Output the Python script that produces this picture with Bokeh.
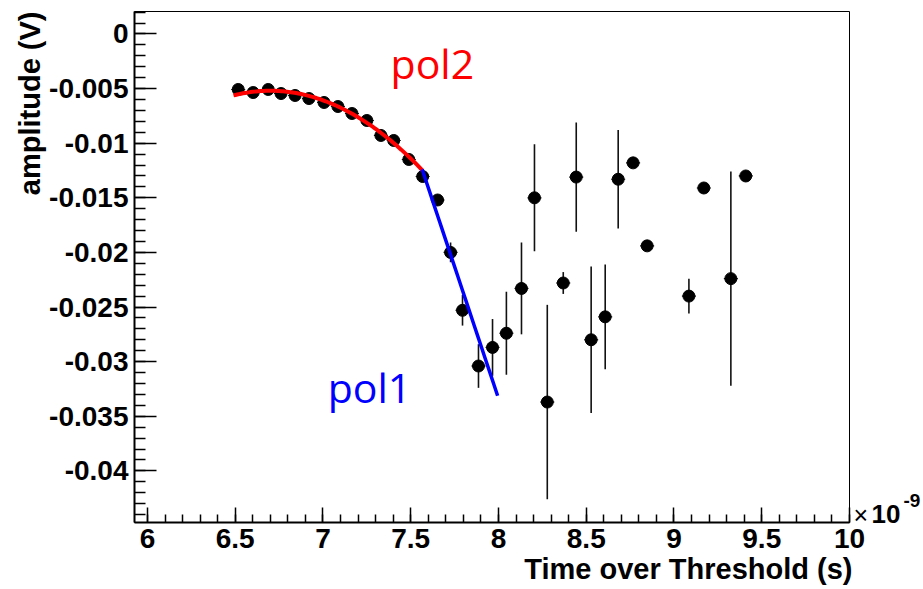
import numpy as np
from bokeh.plotting import figure
from bokeh.models import (Range1d, FixedTicker, CustomJSTickFormatter, Label, ColumnDataSource,
                          Title, LinearAxis)
from bokeh.embed import file_html
from bokeh.resources import INLINE

# ---- data (x in units of 1e-9 s) ----
tot_ns = [6.517, 6.602, 6.688, 6.761, 6.841, 6.920, 7.006, 7.085, 7.165, 7.250,
          7.330, 7.403, 7.489, 7.568, 7.653, 7.727, 7.795, 7.886, 7.966, 8.045,
          8.131, 8.205, 8.278, 8.369, 8.443, 8.528, 8.608, 8.682, 8.767, 8.847,
          9.085, 9.170, 9.324, 9.409]
amp = [-0.00508, -0.00536, -0.00508, -0.00545, -0.00563, -0.00591, -0.00627, -0.00664,
       -0.00728, -0.00792, -0.00929, -0.00975, -0.01149, -0.01305, -0.01520, -0.0200,
       -0.0253, -0.0304, -0.0287, -0.0274, -0.0233, -0.0150, -0.0337, -0.0228,
       -0.0131, -0.0280, -0.0259, -0.0133, -0.0118, -0.0194, -0.0240, -0.0141,
       -0.0224, -0.0130]
amp_err = [0.0002, 0.0002, 0.0002, 0.0002, 0.0002, 0.0002, 0.0002, 0.0002, 0.0002, 0.0002,
           0.0002, 0.0002, 0.0002, 0.0002, 0.0002, 0.0009, 0.0014, 0.0020, 0.0026, 0.0038,
           0.0042, 0.0049, 0.0089, 0.0010, 0.0050, 0.0067, 0.0048, 0.0045, 0.0003, 0.0003,
           0.0016, 0.0003, 0.0098, 0.0003]
tot_err = 0.04

# fit results: pol2 and pol1 (coefficients p0, p1, p2 in x [ns])
pol2_coef = [-0.44063, 0.12998, -0.0097]
pol2_range = [6.49, 7.565]
pol1_coef = [0.35224, -0.0482]
pol1_range = [7.565, 7.995]

x_major = [6.0, 6.5, 7.0, 7.5, 8.0, 8.5, 9.0, 9.5, 10.0]
x_minor = [round(6.0 + 0.1 * i, 1) for i in range(41)]
y_major = [0.0, -0.005, -0.01, -0.015, -0.02, -0.025, -0.03, -0.035, -0.04]
y_minor = [round(0.002 - 0.001 * i, 3) for i in range(47)]

x_title = "Time over Threshold (s)"
y_title = "amplitude (V)"
exp_parts = ["\u00d7", "10", "-9"]

# ---- figure ----
p = figure(width=923, height=588,
           x_range=Range1d(5.926, 10.0), y_range=Range1d(-0.04473, 0.00206),
           output_backend="svg", toolbar_location=None,
           min_border_left=134, min_border_right=72, min_border_top=11, min_border_bottom=66)
p.xgrid.visible = False
p.ygrid.visible = False
p.outline_line_color = "black"
p.outline_line_width = 1
p.background_fill_color = "white"
p.border_fill_color = "white"

fmt = CustomJSTickFormatter(code="return String(Number(tick.toPrecision(6)));")
for ax, maj, mnr, tin, min_in in ((p.xaxis, x_major, x_minor, 15, 8), (p.yaxis, y_major, y_minor, 22, 11)):
    ax.ticker = FixedTicker(ticks=maj, minor_ticks=mnr)
    ax.formatter = fmt
    ax.axis_line_width = 2
    ax.axis_line_color = "black"
    ax.major_tick_in = tin
    ax.major_tick_out = 0
    ax.minor_tick_in = min_in
    ax.minor_tick_out = 0
    ax.major_tick_line_color = "black"
    ax.minor_tick_line_color = "black"
    ax.major_tick_line_width = 1.5
    ax.minor_tick_line_width = 1.5
    ax.major_label_text_font = "Liberation Sans"
    ax.major_label_text_font_style = "bold"
    ax.major_label_text_font_size = "28px"
    ax.major_label_text_color = "black"
p.xaxis.major_label_standoff = 6
p.yaxis.major_label_standoff = 6

# axis titles (ROOT style: at the far end of each axis)
p.add_layout(Title(text=x_title, align="right", text_font="Liberation Sans",
                   text_font_style="bold", text_font_size="29px", text_color="black",
                   standoff=0, offset=-3), "below")
p.add_layout(Title(text=y_title, align="right", text_font="Liberation Sans",
                   text_font_style="bold", text_font_size="29px", text_color="black",
                   standoff=2), "left")

# exponent "x10^-9" to the right of the x axis end, as tick labels of blank right axes
def exp_axis(txt, yv, font, style, size, standoff):
    ax = LinearAxis(ticker=FixedTicker(ticks=[yv], minor_ticks=[]),
                    formatter=CustomJSTickFormatter(args=dict(s=txt), code="return s;"),
                    axis_line_color=None, major_tick_line_color=None, minor_tick_line_color=None,
                    major_tick_out=0, major_tick_in=0, minor_tick_out=0,
                    major_label_standoff=standoff, major_label_text_font=font,
                    major_label_text_font_style=style, major_label_text_font_size=size,
                    major_label_text_color="black")
    p.add_layout(ax, "right")

exp_axis(exp_parts[0], -0.04400, "Liberation Sans", "normal", "25px", 4)
exp_axis(exp_parts[1], -0.04396, "Liberation Sans", "bold", "26px", 0)
exp_axis(exp_parts[2], -0.04268, "Liberation Sans", "bold", "19px", 0)

x = np.array(tot_ns)
y = np.array(amp)
ey = np.array(amp_err)
src = ColumnDataSource(dict(x=x, y=y, ylo=y - ey, yhi=y + ey, xlo=x - tot_err, xhi=x + tot_err))
p.segment(x0="x", y0="ylo", x1="x", y1="yhi", source=src, line_color="#111111", line_width=1.6)
p.segment(x0="xlo", y0="y", x1="xhi", y1="y", source=src, line_color="#111111", line_width=1.2)
p.scatter(x="x", y="y", source=src, size=12, fill_color="black", line_color="black")

# fit curves
xf2 = np.linspace(pol2_range[0], pol2_range[1], 100)
yf2 = pol2_coef[0] + pol2_coef[1] * xf2 + pol2_coef[2] * xf2 ** 2
p.line(xf2, yf2, line_color="#ff0000", line_width=4)
xf1 = np.linspace(pol1_range[0], pol1_range[1], 20)
yf1 = pol1_coef[0] + pol1_coef[1] * xf1
p.line(xf1, yf1, line_color="#0000ff", line_width=3.5)

# fit labels
p.add_layout(Label(x=7.385, y=-0.00270, text="pol2", text_font="Open Sans",
                   text_font_size="41px", text_color="#ff0000", text_baseline="alphabetic"))
p.add_layout(Label(x=7.027, y=-0.03229, text="pol1", text_font="Open Sans",
                   text_font_size="41px", text_color="#0000ff", text_baseline="alphabetic"))

open("out.html", "w").write(file_html(p, INLINE))
